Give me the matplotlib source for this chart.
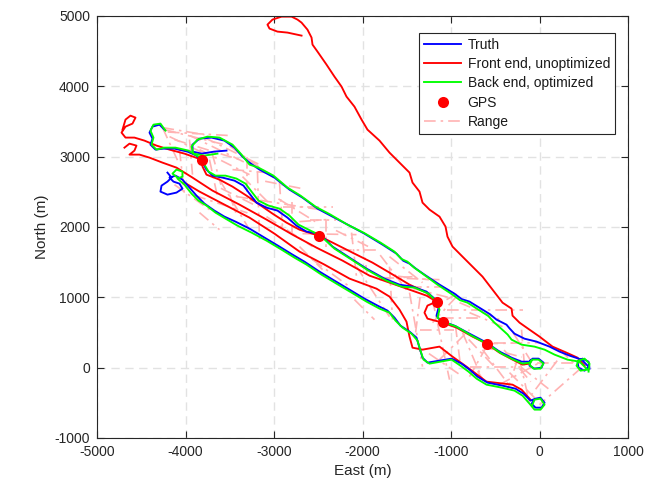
import matplotlib
matplotlib.use("Agg")
import matplotlib.pyplot as plt
import numpy as np

plt.rcParams["font.family"] = ["Liberation Sans", "DejaVu Sans"]
plt.rcParams["axes.unicode_minus"] = False

# ---- Truth tracks (East, North) in metres ----
truth_lane1 = np.array([
    (565, -14), (554, 85), (486, 128), (429, 85), (441, 0), (509, -43), (554, 14),
    (475, 114), (339, 171), (226, 228), (113, 299), (-34, 370), (-170, 412),
    (-283, 483), (-340, 560), (-373, 611), (-486, 683), (-560, 760), (-644, 825),
    (-791, 939), (-880, 975), (-961, 1052), (-1130, 1180), (-1300, 1322),
    (-1400, 1410), (-1469, 1479), (-1540, 1520), (-1616, 1621), (-1774, 1749),
    (-1978, 1905), (-2147, 2019), (-2339, 2147), (-2509, 2261), (-2678, 2417),
    (-2825, 2531), (-2995, 2702), (-3164, 2816), (-3277, 2915), (-3356, 3000),
    (-3447, 3128), (-3560, 3228), (-3706, 3271), (-3842, 3256), (-3921, 3171),
    (-3921, 3072), (-3819, 3043), (-3673, 3072), (-3537, 3086)])

truth_lane2 = np.array([
    (-4238, 3384), (-4294, 3455), (-4373, 3427), (-4407, 3342), (-4373, 3256),
    (-4396, 3171), (-4339, 3100), (-4249, 3114), (-4125, 3114), (-3978, 3072),
    (-3876, 3015), (-3808, 2915), (-3763, 2816), (-3695, 2730), (-3582, 2702),
    (-3447, 2659), (-3345, 2588), (-3277, 2474), (-3198, 2346), (-3085, 2275),
    (-2961, 2233), (-2848, 2133), (-2746, 2019), (-2633, 1934), (-2486, 1905),
    (-2339, 1721), (-2147, 1564), (-1955, 1408), (-1752, 1266), (-1582, 1180),
    (-1435, 1152), (-1277, 1081), (-1187, 981), (-1141, 853), (-1164, 739),
    (-1119, 668), (-961, 597), (-791, 483), (-599, 356), (-452, 228), (-316, 142),
    (-203, 85), (-113, 85), (-79, 128), (-11, 128), (45, 71), (23, 0), (-57, -14),
    (-113, 28), (-102, 100)])

truth_lane3 = np.array([
    (-4204, 2773), (-4158, 2702), (-4204, 2645), (-4271, 2588), (-4283, 2503),
    (-4204, 2460), (-4102, 2489), (-4034, 2545), (-4068, 2616), (-4136, 2645),
    (-4181, 2702), (-4113, 2730), (-4034, 2673), (-3955, 2560), (-3876, 2446),
    (-3786, 2332), (-3673, 2232), (-3560, 2147), (-3435, 2076), (-3277, 1977),
    (-3108, 1849), (-2938, 1721), (-2791, 1607), (-2656, 1507), (-2486, 1365),
    (-2317, 1237), (-2147, 1109), (-1978, 981), (-1831, 882), (-1718, 811),
    (-1639, 711), (-1571, 597), (-1469, 512), (-1390, 427), (-1356, 284),
    (-1322, 142), (-1266, 71), (-1130, 100), (-994, 128), (-881, 57), (-791, -28),
    (-701, -128), (-588, -213), (-418, -256), (-271, -299), (-181, -370),
    (-102, -469), (-45, -441), (11, -427), (57, -498), (23, -569), (-45, -569),
    (-90, -512), (-57, -455)])

# ---- Back end (optimized) estimates ----
back_lane1 = np.array([
    (554, -57), (565, 57), (509, 128), (441, 100), (418, 28), (463, -43), (542, -28),
    (452, 85), (316, 114), (170, 185), (57, 256), (-57, 299), (-203, 327),
    (-316, 398), (-360, 470), (-396, 512), (-509, 640), (-580, 735), (-655, 796),
    (-814, 924), (-900, 960), (-983, 1038), (-1153, 1180), (-1322, 1337),
    (-1420, 1425), (-1492, 1507), (-1560, 1545), (-1639, 1650), (-1797, 1778),
    (-1989, 1920), (-2170, 2033), (-2362, 2176), (-2531, 2289), (-2701, 2446),
    (-2848, 2560), (-3006, 2730), (-3175, 2844), (-3277, 2887), (-3367, 3029),
    (-3469, 3171), (-3616, 3271), (-3752, 3285), (-3865, 3242), (-3932, 3143),
    (-3910, 3043), (-3786, 3015), (-3639, 3043)])

back_lane2 = np.array([
    (-4226, 3370), (-4283, 3470), (-4362, 3455), (-4396, 3370), (-4362, 3271),
    (-4384, 3171), (-4328, 3100), (-4238, 3128), (-4113, 3128), (-3966, 3086),
    (-3853, 3000), (-3786, 2887), (-3740, 2787), (-3661, 2730), (-3548, 2730),
    (-3424, 2688), (-3322, 2616), (-3254, 2503), (-3175, 2375), (-3062, 2304),
    (-2938, 2261), (-2825, 2161), (-2723, 2033), (-2610, 1962), (-2475, 1877),
    (-2317, 1692), (-2124, 1536), (-1932, 1379), (-1729, 1237), (-1559, 1152),
    (-1413, 1138), (-1254, 1052), (-1175, 953), (-1130, 825), (-1153, 711),
    (-1096, 654), (-938, 583), (-768, 455), (-576, 327), (-429, 199), (-294, 114),
    (-192, 57), (-113, 71), (-79, 114), (-11, 114), (45, 57), (11, -14), (-68, -14),
    (-113, 43), (-90, 100)])

back_lane3 = np.array([
    (-4091, 2702), (-4147, 2759), (-4102, 2816), (-4034, 2787), (-4034, 2716),
    (-4091, 2688), (-4012, 2602), (-3932, 2474), (-3853, 2375), (-3763, 2304),
    (-3661, 2204), (-3548, 2119), (-3413, 2019), (-3254, 1920), (-3085, 1806),
    (-2915, 1678), (-2769, 1564), (-2633, 1465), (-2463, 1322), (-2294, 1194),
    (-2124, 1067), (-1955, 939), (-1808, 839), (-1695, 782), (-1627, 668),
    (-1548, 569), (-1446, 483), (-1379, 384), (-1345, 242), (-1311, 114),
    (-1243, 57), (-1119, 85), (-994, 114), (-893, 28), (-802, -57), (-712, -156),
    (-599, -242), (-429, -284), (-283, -327), (-192, -398), (-113, -512),
    (-57, -597), (11, -597), (57, -526), (11, -441), (-57, -455), (-79, -526)])

# ---- Front end (dead-reckoning) tracks ----
front_top = np.array([
    (509, 28), (429, 142), (305, 213), (147, 299), (0, 441), (-113, 540),
    (-226, 640), (-305, 739), (-316, 839), (-418, 924), (-531, 1109), (-644, 1294),
    (-757, 1436), (-870, 1578), (-983, 1721), (-1040, 1863), (-1062, 2005),
    (-1130, 2147), (-1243, 2247), (-1322, 2346), (-1356, 2503), (-1435, 2631),
    (-1469, 2773), (-1582, 2915), (-1695, 3057), (-1808, 3228), (-1944, 3384),
    (-2011, 3527), (-2091, 3711), (-2181, 3854), (-2237, 3996), (-2317, 4138),
    (-2407, 4309), (-2509, 4494), (-2565, 4593), (-2576, 4693), (-2622, 4806),
    (-2689, 4906), (-2735, 4949), (-2802, 4991), (-2915, 4991), (-3017, 4949),
    (-3074, 4877), (-3051, 4821), (-2961, 4778), (-2848, 4764), (-2689, 4721)])

front_mid1 = np.array([
    (-4712, 3384), (-4678, 3527), (-4622, 3583), (-4565, 3555), (-4599, 3470),
    (-4678, 3427), (-4723, 3342), (-4678, 3271), (-4577, 3271), (-4464, 3228),
    (-4328, 3157), (-4181, 3100), (-4012, 3043), (-3819, 2958), (-3808, 2858),
    (-3763, 2744), (-3616, 2673), (-3469, 2574), (-3311, 2446), (-3164, 2318),
    (-3017, 2190), (-2859, 2062), (-2712, 1962), (-2497, 1877), (-2339, 1778),
    (-2113, 1635), (-1887, 1493), (-1695, 1351), (-1469, 1180), (-1277, 1067),
    (-1164, 939), (-1266, 882), (-1300, 782), (-1266, 697), (-1096, 640),
    (-938, 569), (-757, 441), (-599, 341), (-452, 213), (-305, 114), (-192, 43),
    (-113, 57)])

front_mid2 = np.array([
    (-4690, 3128), (-4633, 3185), (-4554, 3157), (-4577, 3086), (-4633, 3029),
    (-4520, 3029), (-4407, 2986), (-4260, 2915), (-4102, 2844), (-3921, 2702),
    (-3695, 2517), (-3390, 2318), (-3085, 2105), (-2791, 1891), (-2520, 1706),
    (-2226, 1522), (-1921, 1308), (-1695, 1209), (-1469, 1109), (-1277, 1024),
    (-1164, 939)])

front_low = np.array([
    (-4012, 2631), (-3842, 2503), (-3560, 2318), (-3277, 2133), (-2995, 1905),
    (-2712, 1650), (-2430, 1465), (-2147, 1266), (-1842, 1123), (-1695, 1010),
    (-1582, 825), (-1503, 654), (-1469, 441), (-1435, 284), (-1322, 256),
    (-1130, 299), (-983, 156), (-825, 14), (-599, -199), (-305, -242),
    (-203, -313), (-102, -455)])

# ---- GPS fixes ----
gps_east = [-3819, -2497, -1164, -1096, -599]
gps_north = [2958, 1877, 939, 654, 341]

# ---- Range measurements: (E0, N0, E1, N1) ----
range_links = [
    (-4260, 3413, -3786, 3313), (-4238, 3384, -3560, 3171), (-4181, 3285, -3808, 3057),
    (-4260, 3413, -4068, 2887), (-4125, 3242, -3390, 2958), (-3955, 3242, -3921, 2744),
    (-3786, 3271, -3164, 2887), (-3729, 2958, -3639, 2432), (-3469, 2816, -3085, 2773),
    (-3356, 2716, -3017, 2289), (-3187, 2787, -3164, 1820), (-2938, 2631, -2904, 2005),
    (-2904, 2289, -2339, 2289), (-3085, 2147, -2565, 1721), (-2599, 2105, -2294, 2105),
    (-2407, 2105, -2407, 1721), (-3842, 2204, -3616, 1962), (-3503, 2460, -3424, 2176),
    (-4125, 2602, -3729, 2247), (-3616, 2673, -3277, 1962), (-3424, 2432, -2486, 2247),
    (-2791, 2005, -2486, 1863), (-2712, 2076, -2407, 2105), (-2678, 1905, -2068, 1891),
    (-2124, 1920, -2068, 1294), (-2068, 1436, -1695, 725), (-1695, 1436, -1661, 683),
    (-1774, 1280, -1130, 1251), (-1469, 1152, -1130, 1152), (-2712, 1721, -2452, 1394),
    (-2565, 1536, -2147, 1152), (-1695, 1578, -1322, 1209), (-1695, 1209, -1017, 995),
    (-938, 1010, -1209, 640), (-1051, 825, -192, 825), (-1469, 1067, -1322, 14),
    (-1209, 967, -1017, -171), (-870, 498, -644, -171), (-599, 341, 0, 356),
    (-599, 299, -791, -128), (-34, 71, 452, 71), (475, 0, 0, -526),
    (-418, 583, -791, 782), (-226, 114, -113, -498), (-339, -71, -34, -455),
    (-644, 256, -305, -313), (-791, 14, -226, 14), (-452, -242, 0, 71),
    (226, 256, 429, 14), (-203, 540, -170, 14), (-509, 356, -283, 356),
    (-1130, 114, -791, 540), (-2091, 967, -1865, 683), (-3277, 2389, -2825, 2176),
    (-2260, 1678, -1808, 1678), (-1356, 540, -961, 540), (-3842, 3100, -3277, 2744),
    (-4068, 3100, -4012, 2460), (-1051, 967, -904, 1067), (-904, 924, -452, 683),
    (-1808, 1251, -1435, 1294), (-249, 114, -362, -313),
    (-4200, 3350, -3500, 3300), (-3950, 3300, -3300, 2900), (-3700, 3050, -3600, 2600),
    (-3500, 3150, -3000, 2700), (-3300, 3000, -3300, 2500), (-3100, 2650, -2700, 2550),
    (-2950, 2400, -2500, 2050), (-3600, 2550, -3200, 2300), (-3900, 2450, -3300, 2200),
    (-2800, 2350, -2800, 1900), (-2300, 1950, -1900, 1700), (-2000, 1800, -1950, 1350),
    (-1800, 1600, -1500, 1100), (-1600, 1300, -1250, 1250), (-1350, 1000, -1400, 500),
    (-1100, 700, -700, 700), (-950, 600, -900, 100), (-800, 400, -500, 0),
    (-650, 300, -200, 150), (-300, 500, -100, 100), (-400, 250, -100, -200),
    (-200, 0, 100, -300), (-1250, 200, -900, -100), (-700, -50, -600, -250),
    (200, 100, -100, -400)]

truth_tracks = [truth_lane1, truth_lane2, truth_lane3]
back_tracks = [back_lane1, back_lane2, back_lane3]
front_tracks = [front_top, front_mid1, front_mid2, front_low]

fig = plt.figure(figsize=(6.59, 4.92), dpi=100)
ax = fig.add_axes([0.1472, 0.1098, 0.8058, 0.8577])

range_color = (1.0, 0.7, 0.7)
range_style = (0, (7, 3, 1.5, 3))
lw = 1.35

for e0, n0, e1, n1 in range_links:
    ax.plot([e0, e1], [n0, n1], color=range_color, lw=1.2, linestyle=range_style,
            zorder=1)

h_truth = None
for i, t in enumerate(truth_tracks):
    ln, = ax.plot(t[:, 0], t[:, 1], color=(0, 0, 1), lw=lw, zorder=3)
    if i == 0:
        h_truth = ln
h_front = None
for i, t in enumerate(front_tracks):
    ln, = ax.plot(t[:, 0], t[:, 1], color=(1, 0, 0), lw=lw, zorder=2)
    if i == 0:
        h_front = ln
h_back = None
for i, t in enumerate(back_tracks):
    ln, = ax.plot(t[:, 0], t[:, 1], color=(0, 1, 0), lw=lw, zorder=4)
    if i == 0:
        h_back = ln
h_gps, = ax.plot(gps_east, gps_north, "o", color=(1, 0, 0), ms=8, mec="none", zorder=5)
h_range, = ax.plot([], [], color=range_color, lw=1.2, linestyle=range_style)

ax.set_xlim(-5000, 1000)
ax.set_ylim(-1000, 5000)
ax.set_xticks(np.arange(-5000, 1001, 1000))
ax.set_yticks(np.arange(-1000, 5001, 1000))

text_color = "#262626"
ax.tick_params(direction="in", top=True, right=True, length=5, width=0.8,
               labelsize=10, colors=text_color, pad=5)
for s in ax.spines.values():
    s.set_color("#262626")
    s.set_linewidth(0.8)
ax.grid(True, color="#e2e2e2", linestyle=(0, (6, 4)), lw=1.0)
ax.set_axisbelow(True)

ax.set_xlabel("East (m)", fontsize=11, color=text_color, labelpad=4)
ax.set_ylabel("North (m)", fontsize=11, color=text_color, labelpad=4)

leg = ax.legend([h_truth, h_front, h_back, h_gps, h_range],
                ["Truth", "Front end, unoptimized", "Back end, optimized", "GPS", "Range"],
                loc="upper right", bbox_to_anchor=(0.975, 0.96), borderaxespad=0,
                fontsize=10, fancybox=False, framealpha=1, edgecolor="#262626",
                handlelength=2.7, handletextpad=0.45, labelspacing=0.38,
                borderpad=0.35)
leg.get_frame().set_linewidth(0.8)
for t in leg.get_texts():
    t.set_color("#1a1a1a")

fig.savefig("out.png", dpi=100)
